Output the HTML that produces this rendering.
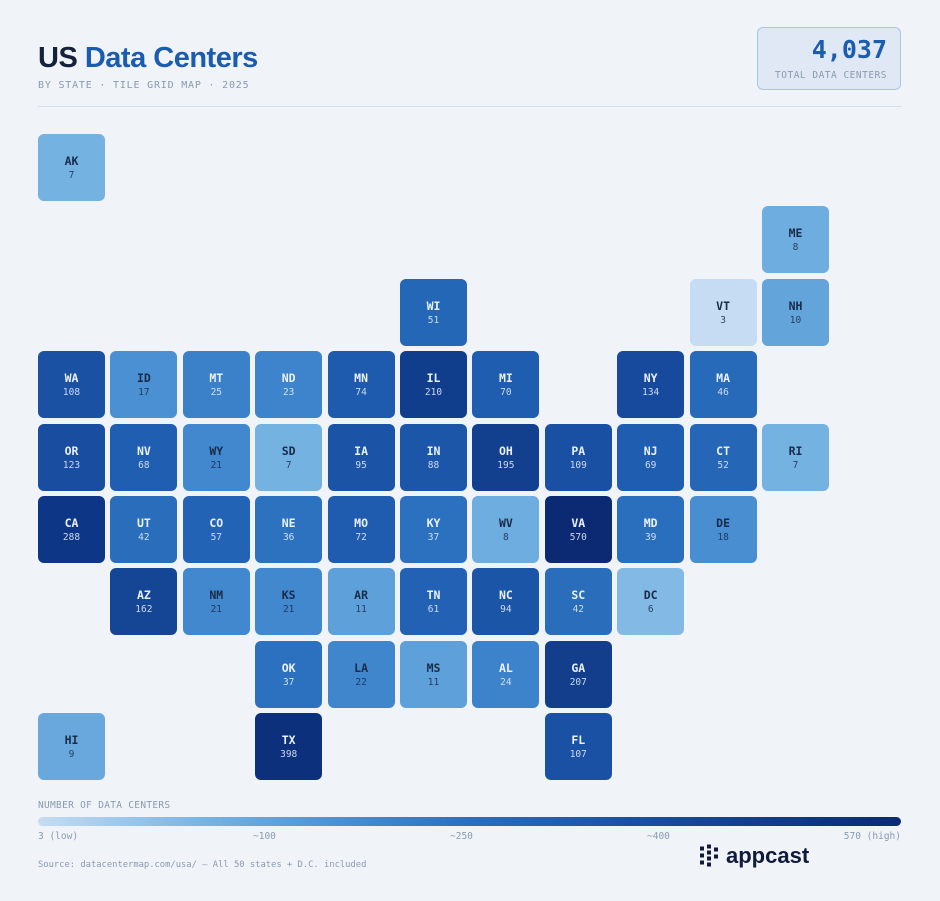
<!DOCTYPE html>
<html><head><meta charset="utf-8"><style>
body{margin:0;background:#f0f3f8;width:940px;height:901px;position:relative;overflow:hidden;font-family:"Liberation Sans",sans-serif}
.mono{font-family:"DejaVu Sans Mono","Liberation Mono",monospace}
#title{position:absolute;left:38px;top:42px;font-size:29px;font-weight:bold;letter-spacing:-0.5px;color:#16213a}
#title span{color:#1a5cb0}
#sub{position:absolute;left:38px;top:80px;font-size:10px;color:#8a9ab0;letter-spacing:.8px}
#kpi{position:absolute;left:757px;top:27px;width:144px;height:63px;border:1px solid #a9c6e6;background:#dfe8f4;border-radius:6px;box-sizing:border-box}
#kpi .v{position:absolute;right:13px;top:7px;font-size:25px;font-weight:bold;color:#1a5cb0}
#kpi .l{position:absolute;right:13px;top:42px;font-size:9.5px;color:#8a9ab0;letter-spacing:.5px}
#rule{position:absolute;left:38px;top:106px;width:863px;height:1px;background:#d3dff0}
.tile{position:absolute;width:67px;height:67px;border-radius:6px;text-align:center}
.tile .a{position:absolute;left:0;right:0;top:20px;font-size:11.5px;font-weight:bold}
.tile .n{position:absolute;left:0;right:0;top:36px;font-size:9.5px;opacity:.85}
#lt{position:absolute;left:38px;top:800px;font-size:9.5px;color:#8a9ab0;letter-spacing:.3px}
#bar{position:absolute;left:38px;top:817px;width:863px;height:9px;border-radius:5px;background:linear-gradient(90deg,#c6dcf2,#74b2e2 20%,#4a90d2 35%,#2a6fbd 50%,#1a51a4 68%,#123f8d 82%,#0b2a73)}
.lb{position:absolute;top:831px;font-size:9.5px;color:#8a9ab0}
#src{position:absolute;left:38px;top:860px;font-size:8.8px;color:#8a9ab0}
#logo{position:absolute;left:700px;top:843px;font-size:22px;font-weight:bold;color:#101a3a}
</style></head><body>
<div id="title">US <span>Data Centers</span></div>
<div id="sub" class="mono">BY STATE · TILE GRID MAP · 2025</div>
<div id="kpi"><div class="v mono">4,037</div><div class="l mono">TOTAL DATA CENTERS</div></div>
<div id="rule"></div>
<div id="map"></div>
<div id="lt" class="mono">NUMBER OF DATA CENTERS</div>
<div id="bar"></div>
<div class="lb mono" style="left:38px">3 (low)</div>
<div class="lb mono" style="left:253px">~100</div>
<div class="lb mono" style="left:450px">~250</div>
<div class="lb mono" style="left:647px">~400</div>
<div class="lb mono" style="right:39px">570 (high)</div>
<div id="src" class="mono">Source: datacentermap.com/usa/ — All 50 states + D.C. included</div>
<div id="logo"><svg width="20" height="23" viewBox="0 0 20 22" style="vertical-align:-4px;margin-right:6px"><g fill="#101a3a"><rect x="0" y="2" width="4" height="4"/><rect x="0" y="9" width="4" height="4"/><rect x="0" y="16" width="4" height="4"/><rect x="7" y="0" width="4" height="4"/><rect x="7" y="6" width="4" height="4"/><rect x="7" y="12" width="4" height="4"/><rect x="7" y="18" width="4" height="4"/><rect x="14" y="3" width="4" height="4"/><rect x="14" y="10" width="4" height="4"/></g></svg>appcast</div>
<script>
const states=["AK","ME","WI","VT","NH","WA","ID","MT","ND","MN","IL","MI","NY","MA","OR","NV","WY","SD","IA","IN","OH","PA","NJ","CT","RI","CA","UT","CO","NE","MO","KY","WV","VA","MD","DE","AZ","NM","KS","AR","TN","NC","SC","DC","OK","LA","MS","AL","GA","HI","TX","FL"];
const counts=[7,8,51,3,10,108,17,25,23,74,210,70,134,46,123,68,21,7,95,88,195,109,69,52,7,288,42,57,36,72,37,8,570,39,18,162,21,21,11,61,94,42,6,37,22,11,24,207,9,398,107];
const cols=[0,10,5,9,10,0,1,2,3,4,5,6,8,9,0,1,2,3,4,5,6,7,8,9,10,0,1,2,3,4,5,6,7,8,9,1,2,3,4,5,6,7,8,3,4,5,6,7,0,3,7];
const rows=[0,1,2,2,2,3,3,3,3,3,3,3,3,3,4,4,4,4,4,4,4,4,4,4,4,5,5,5,5,5,5,5,5,5,5,6,6,6,6,6,6,6,6,7,7,7,7,7,8,8,8];
const stops=[[0,"#c6dcf2"],[.16,"#74b2e2"],[.33,"#4a90d2"],[.39,"#3d84cc"],[.49,"#2a6fbd"],[.6,"#1f5db0"],[.68,"#1a51a4"],[.8,"#123f8d"],[.87,"#0e3686"],[1,"#0b2a73"]];
function hex(h){return [1,3,5].map(i=>parseInt(h.substr(i,2),16));}
function color(v){const t=Math.log(v/3)/Math.log(570/3);for(let i=1;i<stops.length;i++){if(t<=stops[i][0]){const a=stops[i-1],b=stops[i],f=(t-a[0])/(b[0]-a[0]);const A=hex(a[1]),B=hex(b[1]);return "rgb("+A.map((x,k)=>Math.round(x+(B[k]-x)*f)).join(",")+")";}}return stops[stops.length-1][1];}
const xPos=c=>38+c*72.4, yPos=r=>134+r*72.4;
const map=document.getElementById('map');
states.forEach((s,i)=>{
 const d=document.createElement('div');
 
 
 d.className='tile mono';
 d.style.left=xPos(cols[i])+'px';d.style.top=yPos(rows[i])+'px';
 d.style.background=color(counts[i]);
 const dark=counts[i]<=22;
 d.style.color=dark?'#1a2b4a':'#eaf1fb';
 d.innerHTML='<div class="a">'+s+'</div><div class="n">'+counts[i]+'</div>';
 map.appendChild(d);
});
</script>
</body></html>
